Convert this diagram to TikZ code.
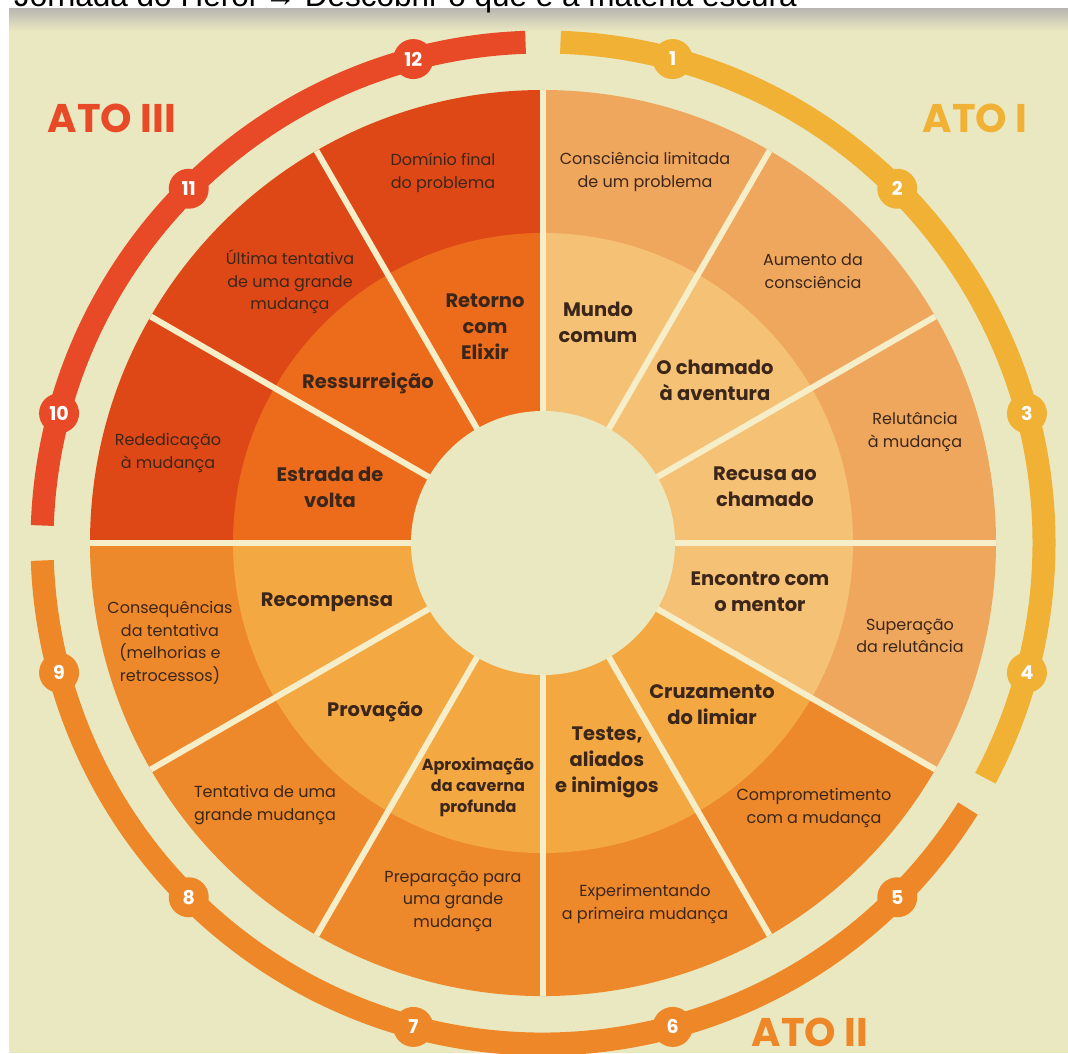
\documentclass[tikz,border=0pt]{standalone}
\usepackage{fontspec}
\setmainfont{Poppins}
\newfontfamily\titlefont{Liberation Sans}
\definecolor{bg}{RGB}{234,232,193}
\definecolor{gapline}{RGB}{246,238,200}
\definecolor{labeltext}{RGB}{60,38,26}
\definecolor{outerI}{RGB}{239,167,94}
\definecolor{innerI}{RGB}{245,193,116}
\definecolor{outerII}{RGB}{237,137,42}
\definecolor{innerII}{RGB}{243,168,66}
\definecolor{outerIII}{RGB}{222,72,22}
\definecolor{innerIII}{RGB}{237,108,28}
\definecolor{ringI}{RGB}{240,177,52}
\definecolor{ringII}{RGB}{238,135,40}
\definecolor{ringIII}{RGB}{232,74,40}
\begin{document}
\begin{tikzpicture}[x=1pt,y=1pt]
        \tikzstyle{every node}=[align=center,inner sep=0pt,text=labeltext]
        \tikzstyle{outerlabel}=[font=\fontsize{16}{22.5}\selectfont]
        \tikzstyle{innerlabel}=[font=\fontsize{19.5}{26}\selectfont\bfseries]
        \tikzstyle{marker}=[circle,minimum size=40pt,text=white,font=\fontsize{19}{19}\selectfont\bfseries]
        \tikzstyle{actlabel}=[anchor=base,font=\fontsize{40}{40}\selectfont\bfseries]
        \tikzstyle{ring}=[line width=23pt]
        \tikzstyle{gap}=[line width=6pt,draw=gapline]
        \useasboundingbox (0,0) rectangle (1068,1053);
        \clip (0,0) rectangle (1068,1053);
        \fill[white] (0,0) rectangle (1068,1053);
        \fill[bg] (9,0) rectangle (1068,1044);
        \shade[top color={rgb,255:red,186;green,184;blue,178},bottom color=bg] (9,1022) rectangle (1068,1044);
        \draw (14,1046) node[anchor=base west,text=black,font=\titlefont\fontsize{31.5}{31.5}\selectfont] (title) {Jornada do Herói → Descobrir o que é a matéria escura};
        \begin{scope}[shift={(543,510)}]
            % wedges
            \fill[outerI] (0,0) -- (90:453) arc (90:-30:453) -- cycle;
            \fill[outerII] (0,0) -- (-30:453) arc (-30:-180:453) -- cycle;
            \fill[outerIII] (0,0) -- (180:453) arc (180:90:453) -- cycle;
            \fill[innerI] (0,0) -- (90:310) arc (90:-30:310) -- cycle;
            \fill[innerII] (0,0) -- (-30:310) arc (-30:-180:310) -- cycle;
            \fill[innerIII] (0,0) -- (180:310) arc (180:90:310) -- cycle;
            \draw[gap] (90:453) -- (-90:453);
            \draw[gap] (60:453) -- (-120:453);
            \draw[gap] (30:453) -- (-150:453);
            \draw[gap] (0:453) -- (180:453);
            \draw[gap] (-30:453) -- (150:453);
            \draw[gap] (-60:453) -- (120:453);
            \fill[bg] (0,0) circle (132);
            % acts
            \draw[ring,ringI] (88:501) arc (88:-28:501);
            \draw[ring,ringII] (-32:501) arc (-32:-178:501);
            \draw[ring,ringIII] (178:501) arc (178:92:501);
            \draw (75:501) node[marker,fill=ringI] (m1) {1};
            \draw (45:501) node[marker,fill=ringI] (m2) {2};
            \draw (15:501) node[marker,fill=ringI] (m3) {3};
            \draw (-15:501) node[marker,fill=ringI] (m4) {4};
            \draw (-45:501) node[marker,fill=ringII] (m5) {5};
            \draw (-75:501) node[marker,fill=ringII] (m6) {6};
            \draw (-105:501) node[marker,fill=ringII] (m7) {7};
            \draw (-135:501) node[marker,fill=ringII] (m8) {8};
            \draw (-165:501) node[marker,fill=ringII] (m9) {9};
            \draw (165:501) node[marker,fill=ringIII] (m10) {10};
            \draw (135:501) node[marker,fill=ringIII] (m11) {11};
            \draw (105:501) node[marker,fill=ringIII] (m12) {12};
            \draw (432,410) node[actlabel,text=ringI] (act1) {ATO I};
            \draw (267,-503) node[actlabel,text=ringII] (act2) {ATO II};
            \draw (-431,410) node[actlabel,text=ringIII] (act3) {ATO III};
            % outer ring
            \draw (102,371) node[outerlabel] (o1) {Consciência limitada\\de um problema};
            \draw (270,272) node[outerlabel] (o2) {Aumento da\\consciência};
            \draw (372,111) node[outerlabel] (o3) {Relutância\\à mudança};
            \draw (367,-93) node[outerlabel] (o4) {Superação\\da relutância};
            \draw (271,-265) node[outerlabel] (o5) {Comprometimento\\com a mudança};
            \draw (102,-361) node[outerlabel] (o6) {Experimentando\\a primeira mudança};
            \draw (-90,-358) node[outerlabel] (o7) {Preparação para\\uma grande\\mudança};
            \draw (-278,-262) node[outerlabel] (o8) {Tentativa de uma\\grande mudança};
            \draw (-373,-100) node[outerlabel] (o9) {Consequências\\da tentativa\\(melhorias e\\retrocessos)};
            \draw (-375,90) node[outerlabel] (o10) {Rededicação\\à mudança};
            \draw (-253,261) node[outerlabel] (o11) {Última tentativa\\de uma grande\\mudança};
            \draw (-100,370) node[outerlabel] (o12) {Domínio final\\do problema};
            % inner ring
            \draw (55,221) node[innerlabel] (i1) {Mundo\\comum};
            \draw (172,163) node[innerlabel] (i2) {O chamado\\à aventura};
            \draw (222,56) node[innerlabel] (i3) {Recusa ao\\chamado};
            \draw (217,-49) node[innerlabel] (i4) {Encontro com\\o mentor};
            \draw (169,-162) node[innerlabel] (i5) {Cruzamento\\do limiar};
            \draw (64,-219) node[innerlabel] (i6) {Testes,\\aliados\\e inimigos};
            \draw (-65,-244) node[innerlabel,font=\fontsize{16}{21}\selectfont\bfseries] (i7) {Aproximação\\da caverna\\profunda};
            \draw (-168,-169) node[innerlabel] (i8) {Provação};
            \draw (-216,-59) node[innerlabel] (i9) {Recompensa};
            \draw (-213,56) node[innerlabel] (i10) {Estrada de\\volta};
            \draw (-175,160) node[innerlabel] (i11) {Ressurreição};
            \draw (-58,216) node[innerlabel] (i12) {Retorno\\com\\Elixir};
        \end{scope}
\end{tikzpicture}
\end{document}
